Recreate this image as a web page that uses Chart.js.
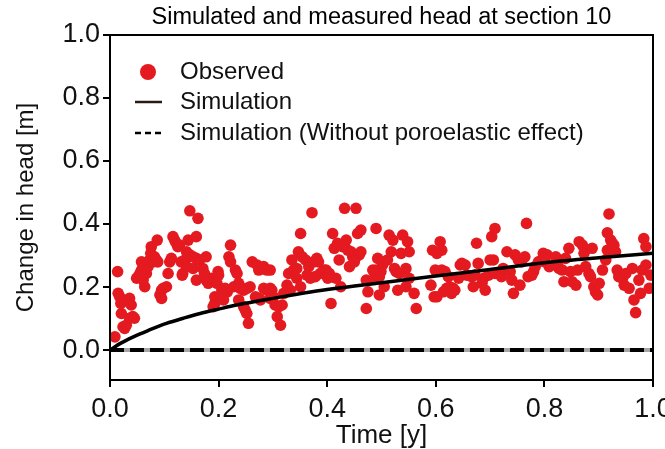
<!DOCTYPE html>
<html>
<head>
<meta charset="utf-8">
<script src="https://cdn.jsdelivr.net/npm/chart.js@4.4.1/dist/chart.umd.min.js"></script>
<style>
    html, body { margin: 0; padding: 0; background: #fff; }
</style>
</head>
<body>
<canvas id="myChart" width="665" height="449"></canvas>
<script>
// observed head
const obsTime = [
    0.014, 0.015, 0.018, 0.020, 0.021, 0.036, 0.039, 0.024, 0.027, 0.030, 0.009, 0.036, 0.042, 0.045, 0.049, 0.052,
    0.055, 0.058, 0.058, 0.064, 0.061, 0.067, 0.070, 0.073, 0.075, 0.076, 0.079, 0.082, 0.085, 0.088, 0.087, 0.095,
    0.098, 0.104, 0.092, 0.095, 0.107, 0.110, 0.113, 0.116, 0.119, 0.122, 0.125, 0.128, 0.131, 0.134, 0.138, 0.141,
    0.133, 0.144, 0.147, 0.162, 0.159, 0.141, 0.147, 0.153, 0.159, 0.165, 0.177, 0.153, 0.159, 0.171, 0.174, 0.177,
    0.181, 0.187, 0.193, 0.193, 0.193, 0.190, 0.199,
    0.200, 0.197, 0.206, 0.212, 0.216, 0.209, 0.219, 0.222, 0.222, 0.231, 0.234, 0.228, 0.237, 0.240, 0.246, 0.252,
    0.258, 0.237, 0.246, 0.252, 0.255, 0.249, 0.262, 0.271, 0.274, 0.283, 0.289, 0.295, 0.268, 0.274, 0.277, 0.283,
    0.289, 0.295, 0.298, 0.295, 0.301, 0.304, 0.311, 0.317, 0.308, 0.314, 0.320, 0.326, 0.329, 0.335, 0.338, 0.344,
    0.332, 0.344, 0.351, 0.347, 0.351, 0.372, 0.354, 0.360, 0.363, 0.366, 0.375, 0.381, 0.384, 0.387, 0.394, 0.378,
    0.369,
    0.432, 0.453, 0.410, 0.413, 0.419, 0.435, 0.422, 0.428, 0.438, 0.444, 0.447, 0.453, 0.459, 0.462, 0.456, 0.462,
    0.441, 0.450, 0.398, 0.404, 0.401, 0.416, 0.425, 0.407, 0.472, 0.475, 0.487, 0.490, 0.493, 0.490, 0.499, 0.502,
    0.496, 0.484, 0.472, 0.496, 0.505, 0.511, 0.514, 0.518, 0.521, 0.524, 0.527, 0.533, 0.536, 0.539, 0.548, 0.551,
    0.545, 0.530, 0.545, 0.551, 0.560, 0.564, 0.591, 0.594, 0.597,
    0.608, 0.611, 0.602, 0.599, 0.611, 0.617, 0.623, 0.602, 0.614, 0.620, 0.626, 0.632, 0.635, 0.629, 0.642, 0.645,
    0.648, 0.654, 0.657, 0.666, 0.672, 0.678, 0.675, 0.669, 0.685, 0.691, 0.688, 0.700, 0.706, 0.703, 0.709, 0.697,
    0.709, 0.721, 0.724, 0.731, 0.737, 0.740, 0.743, 0.755, 0.746, 0.752, 0.758, 0.764, 0.767, 0.770, 0.777, 0.780,
    0.783, 0.789, 0.795, 0.798, 0.801,
    0.805, 0.809, 0.821, 0.824, 0.827, 0.833, 0.836, 0.839, 0.845, 0.848, 0.851, 0.858, 0.861, 0.864, 0.870, 0.873,
    0.876, 0.882, 0.885, 0.888, 0.891, 0.894, 0.898, 0.901, 0.907, 0.913, 0.916, 0.916, 0.919, 0.922, 0.925, 0.928,
    0.931, 0.934, 0.937, 0.944, 0.947, 0.950, 0.956, 0.962, 0.965, 0.968, 0.974, 0.977, 0.980, 0.983, 0.987, 0.987,
    0.993, 0.996
];
const obsHead = [
    0.249, 0.180, 0.169, 0.148, 0.116, 0.164, 0.143, 0.074, 0.069, 0.079, 0.042, 0.101, 0.106, 0.101, 0.228, 0.233,
    0.243, 0.254, 0.280, 0.201, 0.222, 0.243, 0.265, 0.286, 0.307, 0.328, 0.280, 0.296, 0.286, 0.280, 0.349, 0.190,
    0.196, 0.201, 0.175, 0.164, 0.243, 0.280, 0.291, 0.360, 0.349, 0.339, 0.328, 0.333, 0.280, 0.243, 0.286, 0.265,
    0.238, 0.349, 0.442, 0.418, 0.360, 0.312, 0.302, 0.296, 0.291, 0.286, 0.296, 0.259, 0.222, 0.259, 0.243, 0.222,
    0.212, 0.228, 0.217, 0.169, 0.148, 0.138, 0.249,
    0.238, 0.212, 0.190, 0.196, 0.185, 0.159, 0.296, 0.333, 0.280, 0.254, 0.243, 0.201, 0.212, 0.196, 0.190, 0.196,
    0.201, 0.159, 0.138, 0.116, 0.085, 0.127, 0.280, 0.270, 0.254, 0.265, 0.254, 0.254, 0.169, 0.164, 0.159, 0.196,
    0.190, 0.196, 0.190, 0.164, 0.169, 0.143, 0.138, 0.143, 0.106, 0.079, 0.180, 0.206, 0.243, 0.286, 0.254, 0.259,
    0.190, 0.228, 0.201, 0.312, 0.370, 0.436, 0.296, 0.286, 0.238, 0.265, 0.280, 0.291, 0.280, 0.243, 0.254, 0.233,
    0.228,
    0.450, 0.450, 0.370, 0.323, 0.339, 0.349, 0.286, 0.328, 0.317, 0.312, 0.296, 0.296, 0.302, 0.312, 0.370, 0.381,
    0.265, 0.280, 0.254, 0.243, 0.228, 0.228, 0.201, 0.148, 0.222, 0.185, 0.228, 0.254, 0.291, 0.386, 0.249, 0.270,
    0.233, 0.254, 0.132, 0.175, 0.201, 0.286, 0.365, 0.312, 0.349, 0.259, 0.249, 0.243, 0.307, 0.365, 0.344, 0.312,
    0.259, 0.190, 0.201, 0.228, 0.180, 0.132, 0.206, 0.317, 0.169,
    0.344, 0.317, 0.307, 0.254, 0.254, 0.249, 0.233, 0.169, 0.185, 0.196, 0.201, 0.196, 0.190, 0.180, 0.228, 0.270,
    0.275, 0.270, 0.238, 0.233, 0.238, 0.275, 0.339, 0.201, 0.212, 0.190, 0.228, 0.286, 0.286, 0.360, 0.386, 0.238,
    0.243, 0.233, 0.259, 0.312, 0.249, 0.222, 0.180, 0.206, 0.302, 0.286, 0.280, 0.296, 0.402, 0.233, 0.238, 0.249,
    0.265, 0.280, 0.286, 0.307, 0.280,
    0.302, 0.265, 0.296, 0.280, 0.259, 0.254, 0.217, 0.291, 0.323, 0.249, 0.217, 0.206, 0.254, 0.344, 0.333, 0.307,
    0.265, 0.243, 0.233, 0.323, 0.201, 0.185, 0.175, 0.212, 0.254, 0.286, 0.317, 0.372, 0.432, 0.349, 0.339, 0.333,
    0.312, 0.254, 0.233, 0.228, 0.206, 0.243, 0.196, 0.259, 0.159, 0.119, 0.222, 0.180, 0.254, 0.354, 0.328, 0.270,
    0.196, 0.238
];

// simulation with poroelastic effect
const simTime = [0, 0.02, 0.043, 0.07, 0.104, 0.135, 0.166, 0.20, 0.233, 0.30, 0.40, 0.50, 0.60, 0.70, 0.80, 0.90, 1.00];
const simHead = [0, 0.022, 0.042, 0.062, 0.085, 0.101, 0.116, 0.130, 0.143, 0.164, 0.192, 0.214, 0.235, 0.256, 0.277, 0.293, 0.307];

// simulation without poroelastic effect
const baseTime = [0, 1];
const baseHead = [0, 0];

const xTicks = [0, 0.2, 0.4, 0.6, 0.8, 1.0];
const yTicks = [0, 0.2, 0.4, 0.6, 0.8, 1.0];

const TITLE = 'Simulated and measured head at section 10';
const FONT = '"Liberation Sans", Arial, Helvetica, sans-serif';
const RED = 'rgb(228, 26, 32)';

const toPoints = (xs, ys) => xs.map((x, i) => ({ x: x, y: ys[i] }));

// box round the plot area + title centred over it
const framePlugin = {
    id: 'frame',
    afterDraw(chart) {
        const ctx = chart.ctx;
        const a = chart.chartArea;
        ctx.save();
        ctx.strokeStyle = '#000';
        ctx.lineWidth = 2;
        ctx.strokeRect(a.left, a.top, a.right - a.left, a.bottom - a.top);

        ctx.fillStyle = '#000';
        ctx.font = '23.5px ' + FONT;
        ctx.textAlign = 'center';
        ctx.textBaseline = 'middle';
        ctx.fillText(TITLE, (a.left + a.right) / 2, a.top - 17);
        ctx.restore();
    }
};

// legend drawn inside the plot, top left
const legendPlugin = {
    id: 'insideLegend',
    afterDraw(chart) {
        const ctx = chart.ctx;
        const a = chart.chartArea;
        const sx = a.left + 25, ex = a.left + 52, tx = a.left + 70;
        const rows = [a.top + 37, a.top + 67, a.top + 98];
        ctx.save();
        ctx.fillStyle = RED;
        ctx.beginPath();
        ctx.arc(a.left + 38, rows[0], 8, 0, Math.PI * 2);
        ctx.fill();

        ctx.strokeStyle = '#2a1a14';
        ctx.lineWidth = 2.5;
        ctx.beginPath();
        ctx.moveTo(sx, rows[1]);
        ctx.lineTo(ex, rows[1]);
        ctx.stroke();

        ctx.strokeStyle = '#000';
        ctx.setLineDash([6, 4]);
        ctx.beginPath();
        ctx.moveTo(sx, rows[2]);
        ctx.lineTo(ex, rows[2]);
        ctx.stroke();
        ctx.setLineDash([]);

        ctx.fillStyle = '#111';
        ctx.font = '24px ' + FONT;
        ctx.textBaseline = 'middle';
        ctx.textAlign = 'left';
        ctx.fillText('Observed', tx, rows[0]);
        ctx.fillText('Simulation', tx, rows[1]);
        ctx.fillText('Simulation (Without poroelastic effect)', tx, rows[2]);
        ctx.restore();
    }
};

new Chart(
    document.getElementById('myChart'),
    {
        type: 'scatter',
        data: {
            datasets: [
                {
                    label: 'Simulation',
                    data: toPoints(simTime, simHead),
                    showLine: true,
                    borderColor: '#000',
                    borderWidth: 3.5,
                    pointRadius: 0,
                    cubicInterpolationMode: 'monotone',
                    order: 1,
                },
                {
                    label: 'baseline',
                    data: toPoints(baseTime, baseHead),
                    showLine: true,
                    borderColor: 'rgb(165, 165, 165)',
                    borderWidth: 4,
                    pointRadius: 0,
                    order: 3,
                },
                {
                    label: 'Simulation (Without poroelastic effect)',
                    data: toPoints(baseTime, baseHead),
                    showLine: true,
                    borderColor: '#000',
                    borderWidth: 4,
                    borderDash: [14, 6],
                    pointRadius: 0,
                    order: 2,
                },
                {
                    label: 'Observed',
                    data: toPoints(obsTime, obsHead),
                    backgroundColor: RED,
                    borderColor: RED,
                    borderWidth: 0,
                    pointRadius: 5.8,
                    order: 4,
                },
            ]
        },
        options: {
            responsive: false,
            animation: false,
            layout: {
                padding: { left: 0, right: 12, top: 35, bottom: 0 },
            },
            plugins: {
                legend: { display: false },
                tooltip: { enabled: false },
                title: { display: false },
            },
            scales: {
                x: {
                    type: 'linear',
                    min: 0,
                    max: 1,
                    afterBuildTicks: (scale) => { scale.ticks = xTicks.map(v => ({ value: v })); },
                    afterFit: (scale) => {
                        scale.height = 69;
                        scale.paddingLeft = 0;
                        scale.paddingRight = 0;
                    },
                    grid: { display: true, drawOnChartArea: false, drawTicks: true, tickLength: 7, color: '#000', lineWidth: 2 },
                    border: { display: true, color: '#000', width: 2 },
                    ticks: {
                        color: '#111',
                        padding: 6,
                        font: { family: FONT, size: 27 },
                        callback: (v) => Number(v).toFixed(1),
                    },
                    title: {
                        display: true,
                        text: 'Time [y]',
                        color: '#111',
                        font: { family: FONT, size: 26, lineHeight: 1 },
                        padding: { top: 0, bottom: 0 },
                    },
                },
                y: {
                    type: 'linear',
                    min: -0.095,
                    max: 1,
                    afterBuildTicks: (scale) => { scale.ticks = yTicks.map(v => ({ value: v })); },
                    afterFit: (scale) => { scale.width = 110; },
                    grid: { display: true, drawOnChartArea: false, drawTicks: true, tickLength: 7, color: '#000', lineWidth: 2 },
                    border: { display: true, color: '#000', width: 2 },
                    ticks: {
                        color: '#111',
                        padding: 3,
                        font: { family: FONT, size: 27 },
                        callback: (v) => Number(v).toFixed(1),
                    },
                    title: {
                        display: true,
                        text: 'Change in head [m]',
                        color: '#111',
                        font: { family: FONT, size: 24, lineHeight: 1 },
                        padding: { top: 14, bottom: 0 },
                    },
                },
            },
        },
        plugins: [framePlugin, legendPlugin],
    }
);
</script>
</body>
</html>
